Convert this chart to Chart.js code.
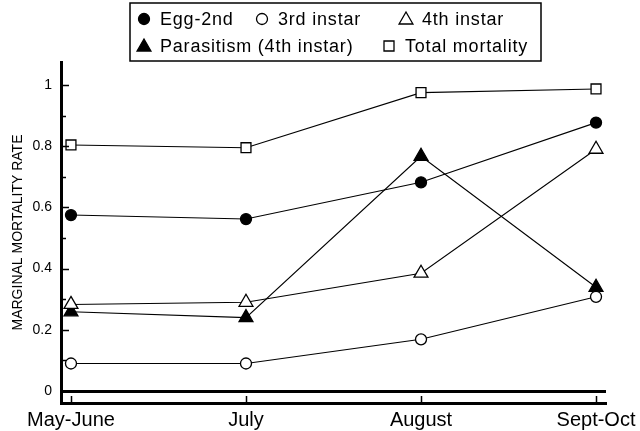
<!DOCTYPE html>
<html>
<head>
<meta charset="utf-8">
<script src="https://cdn.jsdelivr.net/npm/chart.js@4"></script>
<style>
  html, body { margin: 0; padding: 0; background: #fff; }
  #wrap { width: 640px; height: 431px; }
</style>
</head>
<body>
<div id="wrap"><canvas id="line-chart" width="640" height="431"></canvas></div>
<script>
// periods on the x axis
var periods = ["May-June", "July", "August", "Sept-Oct"];
var yTickValues = [0, 0.2, 0.4, 0.6, 0.8, 1];

// marginal mortality rates
var egg2nd = [0.575, 0.562, 0.682, 0.877];
var instar3 = [0.09, 0.09, 0.169, 0.308];
var instar4 = [0.283, 0.29, 0.385, 0.79];
var parasitism = [0.259, 0.24, 0.767, 0.339];
var totalMortality = [0.804, 0.795, 0.975, 0.987];

var FONT = "'Liberation Sans', Arial, sans-serif";

function toPoints(arr) {
  return arr.map(function (v, i) { return { x: i, y: v }; });
}

function series(label, values, style, filled, radius) {
  return {
    label: label,
    data: toPoints(values),
    borderColor: "#000",
    borderWidth: 1.1,
    fill: false,
    tension: 0,
    pointStyle: style,
    pointRadius: radius,
    pointHoverRadius: radius,
    pointBackgroundColor: filled ? "#000" : "#fff",
    pointBorderColor: "#000",
    pointBorderWidth: 1.3
  };
}

// legend laid out like the printed figure (two rows inside a box)
var legendItems = [
  { text: "Egg-2nd", shape: "circle", filled: true, mx: 144, tx: 160, row: 0 },
  { text: "3rd instar", shape: "circle", filled: false, mx: 262, tx: 278, row: 0 },
  { text: "4th instar", shape: "triangle", filled: false, mx: 406, tx: 422, row: 0 },
  { text: "Parasitism (4th instar)", shape: "triangle", filled: true, mx: 144, tx: 160, row: 1 },
  { text: "Total mortality", shape: "rect", filled: false, mx: 389, tx: 405, row: 1 }
];

function drawShape(ctx, shape, filled, x, y) {
  ctx.beginPath();
  if (shape === "circle") {
    ctx.arc(x, y, 5.5, 0, Math.PI * 2);
  } else if (shape === "triangle") {
    var r = 8;
    ctx.moveTo(x, y - r);
    ctx.lineTo(x + r * Math.sin(Math.PI / 3), y + r / 2);
    ctx.lineTo(x - r * Math.sin(Math.PI / 3), y + r / 2);
    ctx.closePath();
  } else {
    ctx.rect(x - 5, y - 5, 10, 10);
  }
  ctx.fillStyle = filled ? "#000" : "#fff";
  ctx.fill();
  ctx.lineWidth = 1.3;
  ctx.strokeStyle = "#000";
  ctx.stroke();
}

var boxLegend = {
  id: "boxLegend",
  afterDraw: function (chart) {
    var ctx = chart.ctx;
    ctx.save();
    ctx.lineWidth = 1.5;
    ctx.strokeStyle = "#000";
    ctx.strokeRect(130, 3, 411, 58);
    ctx.font = "18px " + FONT;
    ctx.letterSpacing = "0.8px";
    ctx.textBaseline = "middle";
    legendItems.forEach(function (it) {
      var y = it.row === 0 ? 19 : 46;
      drawShape(ctx, it.shape, it.filled, it.mx, y + (it.shape === "triangle" ? 1 : 0));
      ctx.fillStyle = "#000";
      ctx.fillText(it.text, it.tx, y + 1);
    });
    ctx.restore();
  }
};

// tick marks point inward, as in the original
var innerTicks = {
  id: "innerTicks",
  afterDraw: function (chart) {
    var ctx = chart.ctx, xs = chart.scales.x, ys = chart.scales.y;
    var area = chart.chartArea;
    ctx.save();
    ctx.strokeStyle = "#000";
    ctx.lineWidth = 1.5;
    ctx.beginPath();
    for (var k = 1; k <= 10; k++) {
      var py = Math.round(ys.getPixelForValue(k / 10)) + 0.5;
      var len = k % 2 === 0 ? 8 : 5;
      ctx.moveTo(area.left, py);
      ctx.lineTo(area.left + len, py);
    }
    periods.forEach(function (p, i) {
      var px = Math.round(xs.getPixelForValue(i)) + 0.5;
      ctx.moveTo(px, area.bottom);
      ctx.lineTo(px, area.bottom - 7);
    });
    ctx.stroke();
    ctx.restore();
  }
};

new Chart(document.getElementById("line-chart"), {
  type: "line",
  data: {
    datasets: [
      series("Egg-2nd", egg2nd, "circle", true, 5.5),
      series("3rd instar", instar3, "circle", false, 5.5),
      series("4th instar", instar4, "triangle", false, 8),
      series("Parasitism (4th instar)", parasitism, "triangle", true, 8),
      series("Total mortality", totalMortality, "rect", false, 7)
    ]
  },
  options: {
    responsive: false,
    animation: false,
    devicePixelRatio: 1,
    layout: { padding: { top: 62, right: 34, left: 0, bottom: 0 } },
    plugins: {
      legend: { display: false },
      tooltip: { enabled: false },
      title: { display: false }
    },
    scales: {
      x: {
        type: "linear",
        min: -0.057,
        max: 3.057,
        afterBuildTicks: function (s) {
          s.ticks = periods.map(function (p, i) { return { value: i }; });
        },
        afterFit: function (s) {
          s.height = 28;
          s.paddingLeft = 0;
          s.paddingRight = 0;
        },
        grid: { display: false, drawTicks: false },
        border: { display: true, color: "#000", width: 3 },
        ticks: {
          color: "#000",
          padding: 5,
          maxRotation: 0,
          autoSkip: false,
          font: { family: FONT, size: 20 },
          callback: function (v) { return periods[v]; }
        }
      },
      y: {
        min: -0.039,
        max: 1.075,
        afterBuildTicks: function (s) {
          s.ticks = yTickValues.map(function (v) { return { value: v }; });
        },
        afterFit: function (s) { s.width = 61; },
        grid: {
          drawTicks: false,
          color: function (c) { return c.tick && c.tick.value === 0 ? "#000" : "rgba(0,0,0,0)"; },
          lineWidth: function (c) { return c.tick && c.tick.value === 0 ? 3 : 0; }
        },
        border: { display: true, color: "#000", width: 3 },
        ticks: {
          color: "#000",
          padding: 9,
          font: { family: FONT, size: 14 },
          callback: function (v) { return String(Number(v.toFixed(1))); }
        },
        title: {
          display: true,
          text: "MARGINAL MORTALITY RATE",
          color: "#000",
          padding: { top: 10, bottom: 0 },
          font: { family: FONT, size: 14 }
        }
      }
    }
  },
  plugins: [boxLegend, innerTicks]
});
</script>
</body>
</html>
